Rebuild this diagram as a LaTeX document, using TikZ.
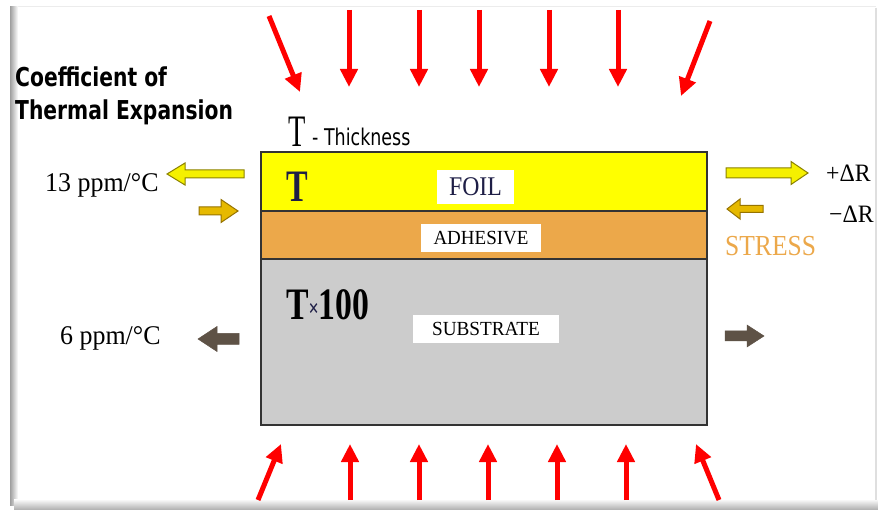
\documentclass[tikz,border=0pt]{standalone}
\usepackage{graphicx}
\usepackage{fontspec}
\setmainfont{Liberation Serif}
\newfontfamily\tahoma{DejaVu Sans}
\usetikzlibrary{arrows.meta}
\definecolor{foilyellow}{RGB}{255,255,0}
\definecolor{adhorange}{RGB}{236,168,74}
\definecolor{subgrey}{RGB}{204,204,204}
\definecolor{navy}{RGB}{30,30,70}
\definecolor{arrowyellow}{RGB}{245,240,0}
\definecolor{arrowolive}{RGB}{140,130,0}
\definecolor{goldfill}{RGB}{230,185,0}
\definecolor{goldedge}{RGB}{150,115,0}
\definecolor{brownarrow}{RGB}{94,82,70}
\definecolor{stressorange}{RGB}{236,168,74}
% style, tail x, y, tip x, shaft half height, head half height, head length (signed)
\newcommand{\hblk}[7]{\filldraw[#1] (#2,{#3-#5}) -- ({#4-(#7)},{#3-#5}) -- ({#4-(#7)},{#3-#6}) -- (#4,#3) -- ({#4-(#7)},{#3+#6}) -- ({#4-(#7)},{#3+#5}) -- (#2,{#3+#5}) -- cycle;}
\tikzset{
  layer/.style={draw=black!80, line width=1.5pt},
  lbl/.style={fill=white, inner sep=0pt},
  heat/.style={draw=red, line width=5pt, -{Triangle[length=18pt,width=17pt]}},
  txt/.style={inner sep=0pt, anchor=base west},
  yarrow/.style={fill=arrowyellow, draw=arrowolive, line width=1pt},
  garrow/.style={fill=goldfill, draw=goldedge, line width=1pt},
  barrow/.style={fill=brownarrow, draw=brownarrow, line width=0.5pt}
}
\begin{document}
\begin{tikzpicture}[x=1pt,y=-1pt]
\useasboundingbox (0,0) rectangle (878,510);
\fill[white] (0,0) rectangle (878,510);
% frame
\draw[gray!15, line width=1pt] (12,7) -- (876,7);
\fill[left color=gray!75, right color=white] (10,7) rectangle (18,505);
\fill[top color=white, bottom color=gray!65] (14,499) rectangle (878,510);
\draw[gray!25, line width=2pt] (876,8) -- (876,500);

% layers
\draw[layer, fill=foilyellow] (261,152) rectangle (707,211);
\draw[layer, fill=adhorange] (261,211) rectangle (707,259);
\draw[layer, fill=subgrey] (261,259) rectangle (707,425);

\node[lbl, minimum width=77pt, minimum height=34pt] (foil) at (475.5,187)
  {\fontsize{27}{30}\selectfont\color{navy}\scalebox{0.88}[1]{FOIL}};
\node[lbl, minimum width=120pt, minimum height=28pt] (adh) at (481,238)
  {\fontsize{20}{24}\selectfont\scalebox{0.95}[1]{ADHESIVE}};
\node[lbl, minimum width=146pt, minimum height=28pt] (sub) at (486,329)
  {\fontsize{20}{24}\selectfont\scalebox{0.96}[1]{SUBSTRATE}};

\node[txt] (tfoil) at (286,202) {\fontsize{45}{48}\selectfont\bfseries\color{navy}\scalebox{0.72}[1]{T}};
\node[txt] (t100) at (286,320) {\fontsize{45}{48}\selectfont\bfseries\scalebox{0.75}[1]{T{\fontsize{24}{26}\selectfont\color{navy}\raisebox{3pt}{\texttimes}}100}};

% titles
\node[txt] (coef1) at (15,87) {\tahoma\bfseries\fontsize{26}{30}\selectfont\scalebox{0.78}[1]{Coefficient of}};
\node[txt] (coef2) at (15,120) {\tahoma\bfseries\fontsize{26}{30}\selectfont\scalebox{0.78}[1]{Thermal Expansion}};
\node[txt] (tthick) at (288,147) {\fontsize{45}{48}\selectfont\scalebox{0.63}[1]{T}};
\node[txt] (thick) at (312,146) {\tahoma\fontsize{23}{26}\selectfont\scalebox{0.76}[1]{- Thickness}};

% CTE values
\node[txt] (cte13) at (45,192) {\fontsize{27}{30}\selectfont\scalebox{0.96}[1]{13 ppm/°C}};
\node[txt] (cte6) at (60,345) {\fontsize{27}{30}\selectfont\scalebox{0.96}[1]{6 ppm/°C}};
\node[txt] (pdr) at (826,182) {\fontsize{25}{28}\selectfont\scalebox{0.95}[1]{+ΔR}};
\node[txt] (mdr) at (829,223) {\fontsize{25}{28}\selectfont\scalebox{0.95}[1]{−ΔR}};
\node[txt] (stress) at (725,256) {\fontsize{29}{32}\selectfont\color{stressorange}\scalebox{0.88}[1]{STRESS}};

% block arrows
\hblk{yarrow}{244}{174}{167}{4}{11}{-18}
\hblk{yarrow}{726}{173}{808}{5}{11.5}{17}
\hblk{garrow}{199}{211}{238}{4}{11.5}{17}
\hblk{garrow}{763}{209}{727}{3.5}{10}{-13}
\hblk{barrow}{239}{339}{198}{5.5}{12.5}{-19}
\hblk{barrow}{725}{336}{764}{5}{11}{17}

% heat arrows top
\draw[heat] (269,16) -- (300,92);
\foreach \x in {349,419,479,549,618} \draw[heat] (\x,10) -- (\x,87);
\draw[heat] (710,21) -- (681,96);
% heat arrows bottom
\draw[heat] (258,500) -- (281,444);
\foreach \x in {350,419,488,557,626} \draw[heat] (\x,500) -- (\x,444);
\draw[heat] (719,500) -- (696,444);
\end{tikzpicture}
\end{document}
